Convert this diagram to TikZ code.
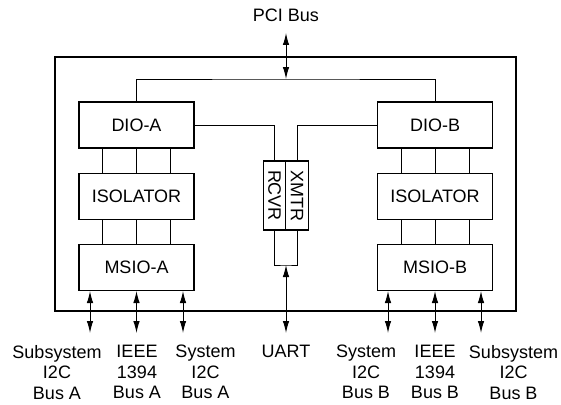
\documentclass[tikz,border=0pt]{standalone}
\usepackage{fontspec}
\setmainfont{Liberation Sans}
\usetikzlibrary{arrows.meta, positioning}

\begin{document}
\begin{tikzpicture}[
    x=1pt, y=-1pt,
    font=\fontsize{18}{20.5}\selectfont,
    node distance=24pt,
    box/.style={rectangle, draw, line width=1.2pt, minimum width=115pt, minimum height=46pt, inner sep=0pt},
    txbox/.style={rectangle, draw, line width=1.2pt, rotate=-90, minimum width=69pt, minimum height=22.5pt, inner sep=0pt},
    link/.style={line width=0.9pt},
    arrow/.style={<->, line width=1pt, >={Latex[length=12pt,width=6.5pt]}},
    lbl/.style={align=center, inner sep=0pt, anchor=north}
]
\useasboundingbox (0,0) rectangle (561,404);

% board outline
\node[draw, line width=1.8pt, minimum width=461pt, minimum height=254pt, inner sep=0pt] (board) at (285.5,184) {};

% left channel
\node[box] (dioa) at (136.5,125) {DIO-A};
\node[box, below=of dioa] (isoa) {ISOLATOR};
\node[box, below=of isoa] (msioa) {MSIO-A};

% right channel
\node[box] (diob) at (435,125) {DIO-B};
\node[box, below=of diob] (isob) {ISOLATOR};
\node[box, below=of isob] (msiob) {MSIO-B};

% uart transceiver
\node[txbox] (rcvr) at (274.5,195.5) {RCVR};
\node[txbox] (xmtr) at (297,195.5) {XMTR};

% pci bus
\node (pci) at (286,15.5) {PCI Bus};
\coordinate (pcitop) at (286,33);
\coordinate (busj) at (286,79);
\draw[arrow] (pcitop) -- (busj);
\draw[link] (dioa) |- (busj) -| (diob);

\draw[link] (dioa.east) -| (rcvr);
\draw[link] (diob.west) -| (xmtr);

\draw[link] ([xshift=-34pt]dioa.south) -- ([xshift=-34pt]isoa.north);
\draw[link] (dioa.south) -- (isoa.north);
\draw[link] ([xshift=34pt]dioa.south) -- ([xshift=34pt]isoa.north);
\draw[link] ([xshift=-34pt]isoa.south) -- ([xshift=-34pt]msioa.north);
\draw[link] (isoa.south) -- (msioa.north);
\draw[link] ([xshift=34pt]isoa.south) -- ([xshift=34pt]msioa.north);

\draw[link] ([xshift=-34pt]diob.south) -- ([xshift=-34pt]isob.north);
\draw[link] (diob.south) -- (isob.north);
\draw[link] ([xshift=34pt]diob.south) -- ([xshift=34pt]isob.north);
\draw[link] ([xshift=-34pt]isob.south) -- ([xshift=-34pt]msiob.north);
\draw[link] (isob.south) -- (msiob.north);
\draw[link] ([xshift=34pt]isob.south) -- ([xshift=34pt]msiob.north);

% uart
\coordinate (uartj) at (286,265);
\coordinate (uartend) at (286,333);
\draw[link] (rcvr) |- (uartj) -| (xmtr);
\draw[arrow] (uartj) -- (uartend);

% external buses
\coordinate (a1) at (90,333);
\coordinate (a2) at (136.5,333);
\coordinate (a3) at (183,333);
\coordinate (b1) at (388,333);
\coordinate (b2) at (435,333);
\coordinate (b3) at (481,333);
\draw[arrow] (msioa.south -| a1) -- (a1);
\draw[arrow] (msioa.south -| a2) -- (a2);
\draw[arrow] (msioa.south -| a3) -- (a3);
\draw[arrow] (msiob.south -| b1) -- (b1);
\draw[arrow] (msiob.south -| b2) -- (b2);
\draw[arrow] (msiob.south -| b3) -- (b3);

\node[lbl] (subia) at (57,345) {Subsystem\\I2C\\Bus A};
\node[lbl] (ieeea) at (137,345) {IEEE\\1394\\Bus A};
\node[lbl] (sysa) at (205.5,345) {System\\I2C\\Bus A};
\node[lbl] (uart) at (286,345) {UART};
\node[lbl] (sysb) at (366,345) {System\\I2C\\Bus B};
\node[lbl] (ieeeb) at (435,345) {IEEE\\1394\\Bus B};
\node[lbl] (subib) at (513.5,345) {Subsystem\\I2C\\Bus B};
\end{tikzpicture}
\end{document}
